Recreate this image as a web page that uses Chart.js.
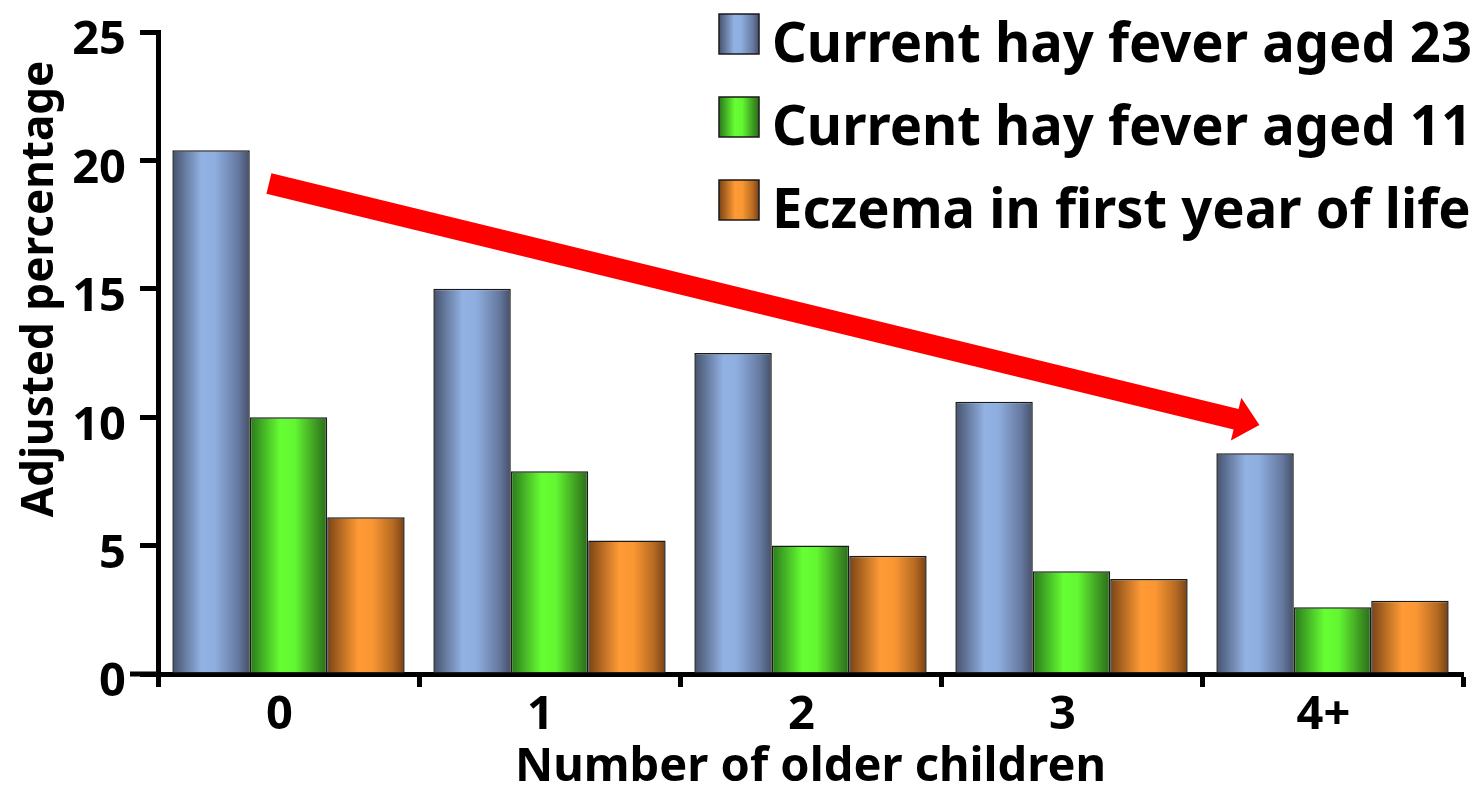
<!DOCTYPE html>
<html>
<head>
<meta charset="utf-8">
<script src="https://cdn.jsdelivr.net/npm/chart.js@4.4.1/dist/chart.umd.min.js"></script>
<style>
  html, body { margin: 0; padding: 0; background: #fff; }
  #wrap { width: 1479px; height: 788px; }
</style>
</head>
<body>
<div id="wrap"><canvas id="chart"></canvas></div>
<script>
// ---------------------------------------------------------------------------
// Data
// ---------------------------------------------------------------------------

const categories  = ['0', '1', '2', '3', '4+'];
const seriesNames = ['Current hay fever aged 23', 'Current hay fever aged 11', 'Eczema in first year of life'];
const hayFever23  = [20.4, 15.0, 12.5, 10.6, 8.6];
const hayFever11  = [10.0, 7.9, 5.0, 4.0, 2.6];
const eczema1st   = [6.1, 5.2, 4.6, 3.7, 2.85];
const yTicks      = [0, 5, 10, 15, 20, 25];

// trend arrow in axis units: [category index, percentage]
const arrowFrom = [-0.075, 19.1];
const arrowTo   = [3.72, 9.7];

const xTitle = 'Number of older children';
const yTitle = 'Adjusted percentage';

// ---------------------------------------------------------------------------
// Styles
// ---------------------------------------------------------------------------

const FONT = "'Noto Sans', 'Open Sans', sans-serif";

const SHADES = [
  [[0, '#45526c'], [0.38, '#93b2e4'], [0.55, '#8eaee0'], [0.85, '#66799f'], [1, '#44506a']],
  [[0, '#2a781c'], [0.40, '#66ff33'], [0.58, '#62f731'], [0.85, '#3f9a22'], [1, '#2a6c1a']],
  [[0, '#7a4414'], [0.40, '#ff9a35'], [0.58, '#fb9733'], [0.85, '#b66a22'], [1, '#764014']],
];

function shade(ctx, left, width, idx) {
  const g = ctx.createLinearGradient(left, 0, left + width, 0);
  SHADES[idx].forEach(([p, c]) => g.addColorStop(p, c));
  return g;
}

// ---------------------------------------------------------------------------
// Plugins
// ---------------------------------------------------------------------------

const barShadingPlugin = {
  id: 'barShading',
  beforeDatasetsDraw(chart) {
    const { ctx } = chart;
    chart.data.datasets.forEach((_, di) => {
      chart.getDatasetMeta(di).data.forEach(bar => {
        const left = bar.x - bar.width / 2;
        bar.options = Object.assign({}, bar.options, { backgroundColor: shade(ctx, left, bar.width, di) });
      });
    });
  },
};

const trendArrowPlugin = {
  id: 'trendArrow',
  afterDatasetsDraw(chart) {
    const { ctx, scales: { x, y } } = chart;
    const x0 = x.getPixelForValue(arrowFrom[0]), y0 = y.getPixelForValue(arrowFrom[1]);
    const x1 = x.getPixelForValue(arrowTo[0]),   y1 = y.getPixelForValue(arrowTo[1]);
    const len = Math.hypot(x1 - x0, y1 - y0);
    const ux = (x1 - x0) / len, uy = (y1 - y0) / len;
    const nx = -uy, ny = ux;
    const shaftHalf = 10.5, headHalf = 22, headLen = 24;
    const bx = x1 - ux * headLen, by = y1 - uy * headLen;

    ctx.save();
    ctx.fillStyle = '#ff0000';
    ctx.beginPath();
    ctx.moveTo(x0 + nx * shaftHalf, y0 + ny * shaftHalf);
    ctx.lineTo(bx + nx * shaftHalf, by + ny * shaftHalf);
    ctx.lineTo(bx + nx * headHalf,  by + ny * headHalf);
    ctx.lineTo(x1, y1);
    ctx.lineTo(bx - nx * headHalf,  by - ny * headHalf);
    ctx.lineTo(bx - nx * shaftHalf, by - ny * shaftHalf);
    ctx.lineTo(x0 - nx * shaftHalf, y0 - ny * shaftHalf);
    ctx.closePath();
    ctx.fill();
    ctx.restore();
  },
};

const sideTextPlugin = {
  id: 'sideText',
  afterDraw(chart) {
    const { ctx, chartArea, scales: { y } } = chart;
    ctx.save();

    // x axis runs on a little past the y axis, as in the original
    ctx.fillStyle = '#000';
    ctx.fillRect(chartArea.left - 28, y.getPixelForValue(0) - 2.5, 28, 5);

    // legend, top right (text squeezed to the original's narrow face)
    const boxX = 719, textX = 772, boxTop = 14, step = 83, box = 40;
    ctx.font = `bold 56px ${FONT}`;
    ctx.textAlign = 'left';
    ctx.textBaseline = 'alphabetic';
    const squeeze = 700 / ctx.measureText(seriesNames[0]).width;
    seriesNames.forEach((name, i) => {
      const top = boxTop + i * step;
      ctx.fillStyle = shade(ctx, boxX, box, i);
      ctx.fillRect(boxX, top, box, box);
      ctx.lineWidth = 1.5;
      ctx.strokeStyle = '#1a1a1a';
      ctx.strokeRect(boxX, top, box, box);
      ctx.save();
      ctx.translate(textX, top + 48);
      ctx.scale(squeeze, 1);
      ctx.fillStyle = '#000';
      ctx.fillText(name, 0, 0);
      ctx.restore();
    });

    // y axis title
    ctx.translate(53, 289);
    ctx.rotate(-Math.PI / 2);
    ctx.font = `bold 44px ${FONT}`;
    ctx.textAlign = 'center';
    ctx.fillStyle = '#000';
    ctx.fillText(yTitle, 0, 0);
    ctx.restore();
  },
};

// ---------------------------------------------------------------------------
// Chart
// ---------------------------------------------------------------------------

Chart.defaults.font.family = FONT;
Chart.defaults.font.weight = 'bold';
Chart.defaults.color = '#000';

const barCommon = {
  borderColor: '#1a1a1a',
  borderWidth: 1.5,
  borderSkipped: false,
  categoryPercentage: 0.89,
  barPercentage: 1.0,
};

new Chart(document.getElementById('chart'), {
  type: 'bar',
  data: {
    labels: categories,
    datasets: [
      { label: seriesNames[0], data: hayFever23, backgroundColor: '#8eaee0', ...barCommon },
      { label: seriesNames[1], data: hayFever11, backgroundColor: '#66ff33', ...barCommon },
      { label: seriesNames[2], data: eczema1st,  backgroundColor: '#ff9933', ...barCommon },
    ],
  },
  plugins: [barShadingPlugin, trendArrowPlugin, sideTextPlugin],
  options: {
    responsive: true,
    maintainAspectRatio: false,
    animation: false,
    layout: { padding: { left: 0, top: 32, right: 16, bottom: 0 } },
    plugins: { legend: { display: false }, tooltip: { enabled: false } },
    scales: {
      x: {
        grid: { drawOnChartArea: false, drawTicks: true, tickLength: 13, tickWidth: 5, tickColor: '#000', offset: true },
        border: { display: true, color: '#000', width: 5 },
        ticks: { font: { size: 47, weight: 'bold' }, padding: 0, labelOffset: -9, color: '#000' },
        title: { display: true, text: xTitle, font: { size: 47, weight: 'bold', lineHeight: 0.85 }, padding: { top: 0, bottom: 0 }, color: '#000' },
        afterFit: s => { s.height = 114; s.paddingLeft = 0; s.paddingRight = 0; },
      },
      y: {
        min: 0,
        max: 25,
        afterBuildTicks: s => { s.ticks = yTicks.map(v => ({ value: v })); },
        grid: { drawOnChartArea: false, drawTicks: true, tickLength: 18, tickWidth: 5, tickColor: '#000' },
        border: { display: true, color: '#000', width: 5 },
        ticks: { font: { size: 47, weight: 'bold' }, padding: 14, labelOffset: 9, color: '#000' },
        afterFit: s => { s.width = 158; s.paddingTop = 0; s.paddingBottom = 0; },
      },
    },
  },
});
</script>
</body>
</html>
